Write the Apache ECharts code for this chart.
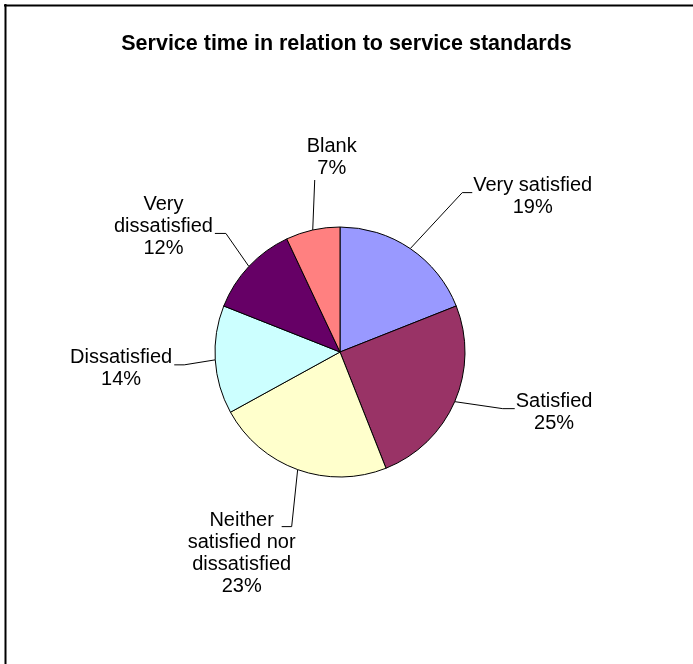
<!DOCTYPE html>
<html>
<head>
<meta charset="utf-8">
<script src="https://cdn.jsdelivr.net/npm/echarts@6/dist/echarts.min.js"></script>
<style>
html,body{margin:0;padding:0;background:#fff;}
#chart{width:693px;height:664px;}
</style>
</head>
<body>
<div id="chart"></div>
<script>
// ---- data ----
var titleText = 'Service time in relation to service standards';
var categories = ['Very satisfied', 'Satisfied', 'Neither satisfied nor dissatisfied', 'Dissatisfied', 'Very dissatisfied', 'Blank'];
var values = [19, 25, 23, 14, 12, 7];

// ---- styles ----
var colors = ['#9999FF', '#993366', '#FFFFCC', '#CCFFFF', '#660066', '#FF8080'];
var FONT = 'Liberation Sans, Arial, sans-serif';
var LABEL_SIZE = 20;
var WRAP_WIDTH = 130;
// leader line shape per slice: bend offset from slice edge, horizontal tail, label placement
var leaderStyle = [
  {bx: 52, by: -56, hx: 10, side: 'right', dy: 4},
  {bx: 48, by: 7, hx: 12, side: 'right', dy: 4},
  {bx: -6, by: 57, hx: -10, side: 'below', dx: -40, dy: 27},
  {bx: -31, by: 5, hx: -10, side: 'left', dy: 4},
  {bx: -23, by: -33, hx: -11, side: 'left', dy: -7},
  {bx: 2, by: -50, hx: 0, side: 'top', dx: 17, dy: -1}
];

var measureCtx = document.createElement('canvas').getContext('2d');
measureCtx.font = LABEL_SIZE + 'px ' + FONT;
function wrapText(str) {
  var words = str.split(' ');
  var lines = [];
  var cur = '';
  words.forEach(function (w) {
    var t = cur ? cur + ' ' + w : w;
    if (cur && measureCtx.measureText(t).width > WRAP_WIDTH) { lines.push(cur); cur = w; }
    else { cur = t; }
  });
  if (cur) lines.push(cur);
  return lines.join('\n');
}

var chart = echarts.init(document.getElementById('chart'), null, {renderer: 'canvas'});

var data = categories.map(function (c, i) {
  return {name: c, value: values[i], itemStyle: {color: colors[i]}};
});

chart.setOption({
  backgroundColor: '#ffffff',
  animation: false,
  title: {
    text: titleText,
    left: 'center',
    top: 33,
    padding: 0,
    textStyle: {fontFamily: FONT, fontSize: 21.5, fontWeight: 'bold', color: '#000'}
  },
  graphic: [
    {type: 'line', shape: {x1: 4, y1: 5.5, x2: 693, y2: 5.5}, style: {stroke: '#000', lineWidth: 2}},
    {type: 'line', shape: {x1: 5.5, y1: 4, x2: 5.5, y2: 664}, style: {stroke: '#000', lineWidth: 2}}
  ],
  series: [{
    type: 'pie',
    center: [340, 352],
    radius: 125,
    startAngle: 90,
    clockwise: true,
    data: data,
    itemStyle: {borderColor: '#000', borderWidth: 1},
    emphasis: {disabled: true},
    label: {
      show: true,
      position: 'outside',
      fontFamily: FONT,
      fontSize: LABEL_SIZE,
      lineHeight: 22,
      color: '#000',
      align: 'center',
      formatter: function (p) { return wrapText(p.name) + '\n' + Math.round(p.percent) + '%'; }
    },
    labelLine: {show: true, length: 20, length2: 10, lineStyle: {color: '#000', width: 1}},
    labelLayout: function (p) {
      var i = p.dataIndex;
      var s = leaderStyle[i];
      var e = p.labelLinePoints[0];
      var b = [e[0] + s.bx, e[1] + s.by];
      var end = [b[0] + s.hx, b[1]];
      var w = p.labelRect.width, h = p.labelRect.height;
      var x, y;
      if (s.side === 'right') { x = end[0] + 1 + w / 2; y = end[1] + s.dy; }
      else if (s.side === 'left') { x = end[0] - 2 - w / 2; y = end[1] + s.dy; }
      else if (s.side === 'below') { x = end[0] + s.dx; y = end[1] + s.dy; }
      else { x = end[0] + s.dx; y = end[1] + s.dy - h / 2; }
      return {x: x, y: y, align: 'center', verticalAlign: 'middle', labelLinePoints: [e, b, end]};
    }
  }]
});
</script>
</body>
</html>
